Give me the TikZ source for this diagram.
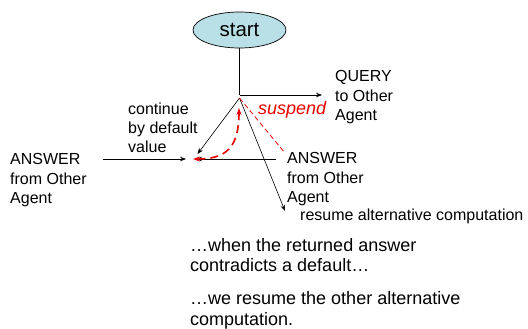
\documentclass[tikz,border=0pt]{standalone}
\usepackage{fontspec}
\setmainfont{Liberation Sans}
\usetikzlibrary{arrows.meta,shapes.geometric}
\definecolor{startfill}{RGB}{185,224,230}
\definecolor{pathred}{RGB}{235,0,0}
\begin{document}
\begin{tikzpicture}[x=1pt,y=-1pt,
  % multi-line labels are placed by the baseline of their last line
  lbl/.style={anchor=base west,align=left,inner sep=0pt,font=\fontsize{16}{19.5}\selectfont},
  note/.style={anchor=base west,align=left,inner sep=0pt,font=\fontsize{18}{20.5}\selectfont},
  flow/.style={draw=black,line width=0.6pt,-{Stealth[length=6pt,width=4.5pt]}},
  backtrack/.style={draw=pathred,line width=1.6pt,dash pattern=on 8pt off 5pt,
    {Stealth[length=7pt,width=5pt]}-{Stealth[length=7pt,width=5pt]}},
  suspendline/.style={draw=pathred,line width=0.8pt,dash pattern=on 5pt off 3pt}
]
\useasboundingbox (0,0) rectangle (528,329);

% start state
\node (start) [ellipse,draw=black,line width=0.7pt,fill=startfill,
  minimum width=93pt,minimum height=36pt,inner sep=0pt,
  font=\fontsize{20.5}{24}\selectfont] at (239.5,30) {start};

% junction points and arrow ends
\coordinate (fork) at (239.5,95);
\coordinate (branch) at (239.5,98);
\coordinate (querytip) at (322,95);
\coordinate (defaulttip) at (197.5,154);
\coordinate (resumetip) at (285,211);
\coordinate (leftfrom) at (103,159);
\coordinate (lefttip) at (186,159);
\coordinate (rightfrom) at (276,159);
\coordinate (righttip) at (196,159);
\coordinate (backlow) at (193,159);
\coordinate (backhigh) at (239,108);
\coordinate (suspendend) at (285,153);

% black control flow
\draw[line width=0.6pt] (start.south) -- (fork);
\draw[flow] (fork) -- (querytip);
\draw[flow] (branch) -- (defaulttip);
\draw[flow] (branch) -- (resumetip);
\draw[flow] (leftfrom) -- (lefttip);
\draw[flow] (rightfrom) -- (righttip);

% suspension and backtracking in red
\draw[suspendline] (branch) -- (suspendend);
\draw[backtrack] (backhigh) .. controls (239,148) and (226,159) .. (backlow);

% labels
\node[lbl] (query) at (335,121) {QUERY\\to Other\\Agent};
\node[lbl] (default) at (128,153) {continue\\by default\\value};
\node[lbl] (answerL) at (10,203.5) {ANSWER\\from Other\\Agent};
\node[lbl] (answerR) at (287,202.5) {ANSWER\\from Other\\Agent};
\node[lbl] (resume) at (300,220) {resume alternative computation};
\node[anchor=base west,inner sep=0pt,text=pathred,
  font=\fontsize{18}{21}\selectfont\itshape] (suspend) at (258,114) {suspend};

% explanation
\node[note] (when) at (190,271.5) {…when the returned answer\\contradicts a default…};
\node[note] (then) at (190,325) {…we resume the other alternative\\computation.};
\end{tikzpicture}
\end{document}
